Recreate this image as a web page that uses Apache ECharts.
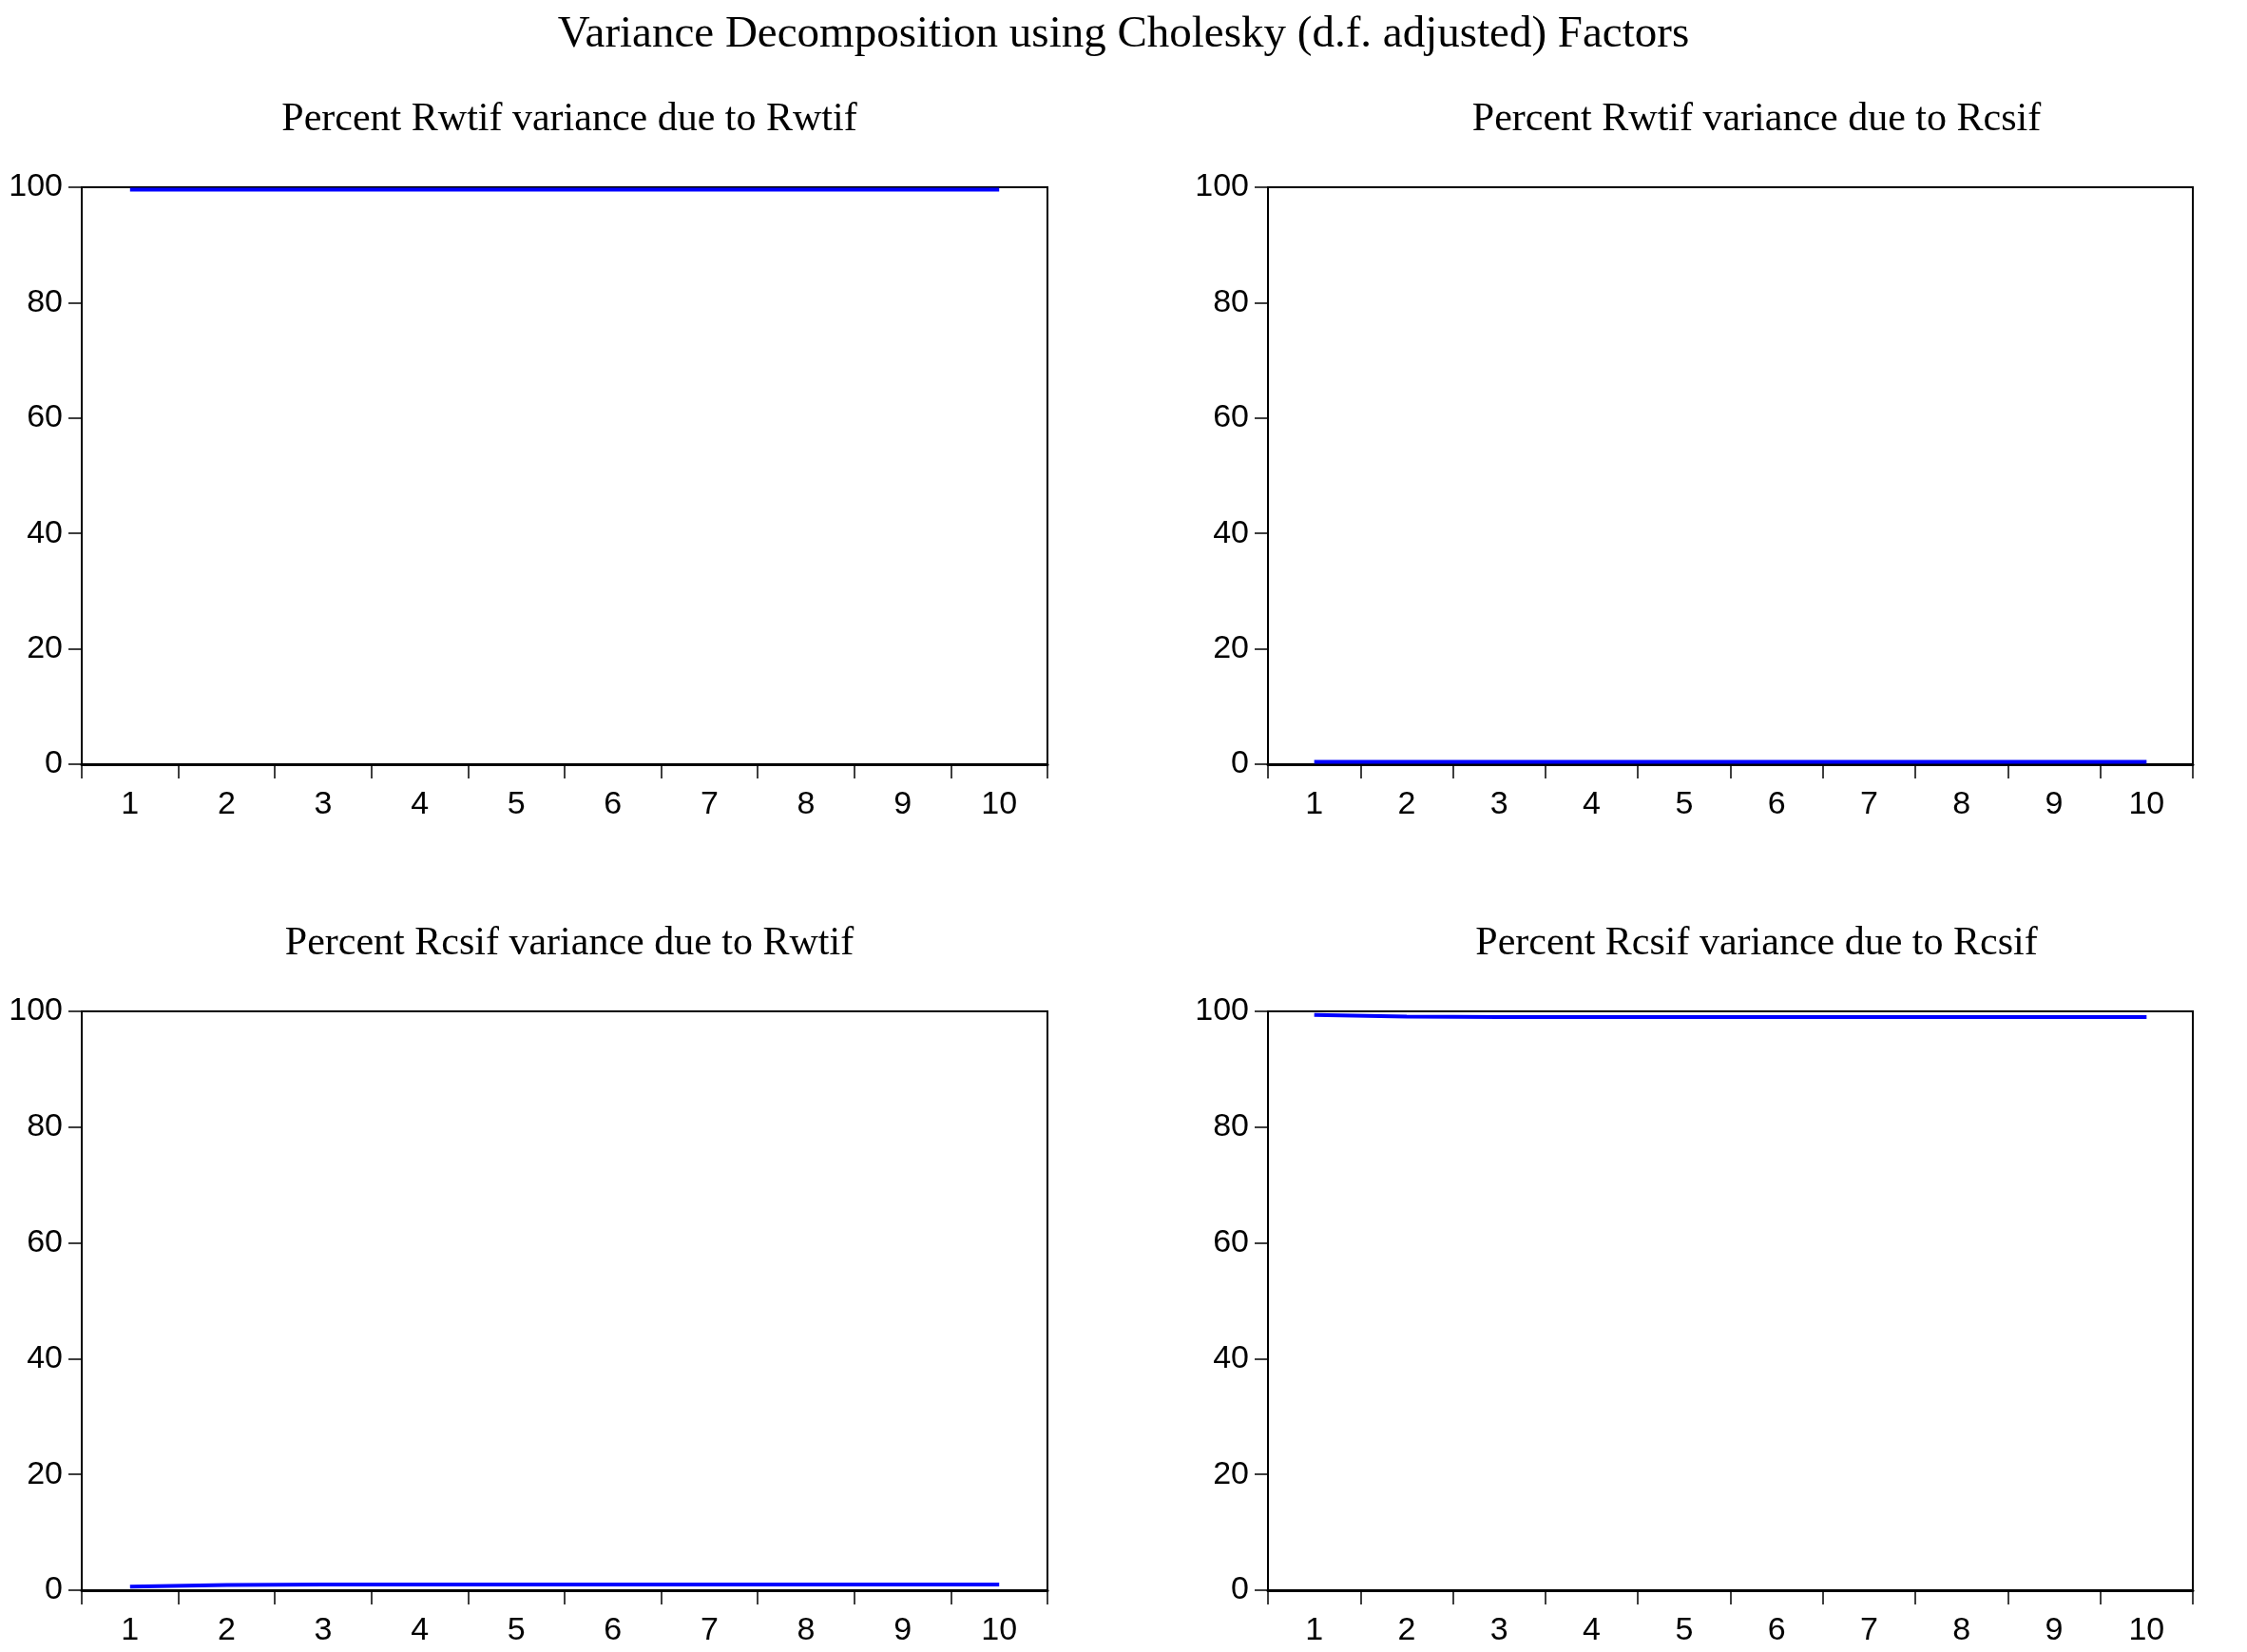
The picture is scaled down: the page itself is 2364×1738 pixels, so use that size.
<!DOCTYPE html>
<html><head><meta charset="utf-8">
<script src="https://cdn.jsdelivr.net/npm/echarts@6/dist/echarts.min.js"></script>
<style>html,body{margin:0;padding:0;background:#fff}#c{width:2364px;height:1738px}</style>
</head><body><div id="c"></div>
<script>
const periods = ['1','2','3','4','5','6','7','8','9','10'];
const rwtifDueRwtif = [99.6,99.6,99.6,99.6,99.6,99.6,99.6,99.6,99.6,99.6];
const rwtifDueRcsif = [0.4,0.4,0.4,0.4,0.4,0.4,0.4,0.4,0.4,0.4];
const rcsifDueRwtif = [0.6,0.9,1.0,1.0,1.0,1.0,1.0,1.0,1.0,1.0];
const rcsifDueRcsif = [99.4,99.1,99.0,99.0,99.0,99.0,99.0,99.0,99.0,99.0];
const yTicks = [0,20,40,60,80,100];
const titles = ['Percent Rwtif variance due to Rwtif','Percent Rwtif variance due to Rcsif','Percent Rcsif variance due to Rwtif','Percent Rcsif variance due to Rcsif'];
const seriesData = [rwtifDueRwtif, rwtifDueRcsif, rcsifDueRwtif, rcsifDueRcsif];

const grids = [
  {left:86, width:1016, top:197, height:607},
  {left:1334, width:973, top:197, height:607},
  {left:86, width:1016, top:1064, height:609},
  {left:1334, width:973, top:1064, height:609}
];
const subX = [594, 1843, 594, 1843];
const subY = [100, 100, 967, 967];
const opt = {
  animation:false,
  title:[{text:'Variance Decomposition using Cholesky (d.f. adjusted) Factors', left:'center', top:8,
    textStyle:{fontFamily:'Liberation Serif', fontSize:47, fontWeight:'normal', color:'#000'}}]
    .concat(titles.map((t,i)=>({text:t, left:subX[i], top:subY[i], textAlign:'center',
      textStyle:{fontFamily:'Liberation Serif', fontSize:42, fontWeight:'normal', color:'#000'}}))),
  grid: grids.map(g=>Object.assign({show:true, borderColor:'#000', borderWidth:2, backgroundColor:'#fff'}, g)),
  xAxis: grids.map((g,i)=>({type:'category', gridIndex:i, data:periods, boundaryGap:true,
    axisLine:{lineStyle:{color:'#000', width:3}},
    axisTick:{show:true, length:15, lineStyle:{color:'#000', width:1.5}},
    axisLabel:{fontFamily:'Liberation Sans', fontSize:34, color:'#000', margin:26}})),
  yAxis: grids.map((g,i)=>({type:'value', gridIndex:i, min:0, max:100, interval:20,
    splitLine:{show:false},
    axisLine:{show:true, lineStyle:{color:'#000', width:2}},
    axisTick:{show:true, length:14, lineStyle:{color:'#000', width:1.5}},
    axisLabel:{fontFamily:'Liberation Sans', fontSize:34, color:'#000', margin:20,
      formatter:v=>yTicks.includes(v)?String(v):''}})),
  series: seriesData.map((d,i)=>({type:'line', xAxisIndex:i, yAxisIndex:i, data:d,
    showSymbol:false, lineStyle:{color:'#0000ff', width:4}}))
};
echarts.init(document.getElementById('c')).setOption(opt);
</script></body></html>
